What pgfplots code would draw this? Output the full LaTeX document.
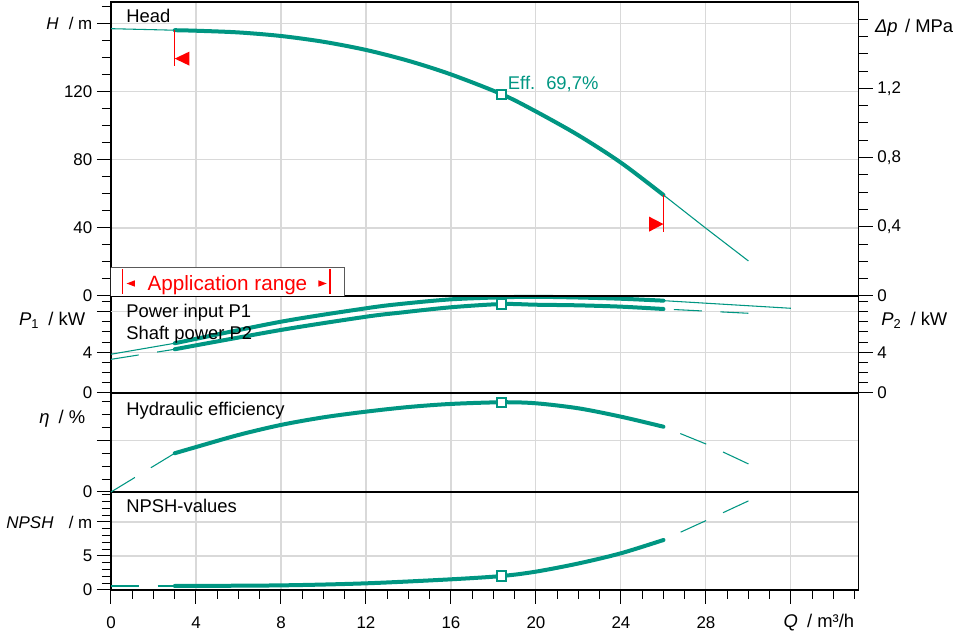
\documentclass[border=0pt]{standalone}
\usepackage{fontspec}
\setmainfont{Liberation Sans}
\usepackage{pgfplots}
\pgfplotsset{compat=1.18}
\definecolor{wilo}{RGB}{0,150,130}
\definecolor{gridgray}{RGB}{217,217,217}
\newcommand{\txt}{\fontsize{13.8}{16}\selectfont}

\begin{document}
\begin{tikzpicture}
\path[use as bounding box] (-83.25pt,0pt) rectangle (631.5pt,475.5pt);
\pgfplotsset{
  panel/.style={
    scale only axis, width=560.78pt, xmin=0, xmax=35.19,
    axis line style={line width=0.9pt, black},
    tick style={line width=0.75pt, black},
    tick align=outside,
    major tick length=10.5pt, minor tick length=6.75pt,
    grid=major, major grid style={gridgray, line width=0.8pt},
    clip=false, anchor=south west,
    tick label style={font=\fontsize{12.7}{15}\selectfont},
    /pgf/number format/assume math mode=true,
    ytick pos=left,
  },
  upper/.style={xtick={4,8,...,32}, xticklabels={}, xtick style={draw=none}},
  thick/.style={wilo, line width=3pt, line cap=round, smooth},
  thin/.style={wilo, line width=0.8pt},
  dashy/.style={wilo, line width=0.8pt, dash pattern=on 21pt off 14pt},
  bop/.style={only marks, mark=square*, mark size=3.4pt, mark options={fill=white, draw=wilo, line width=1.5pt}},
}

% ---------- NPSH ----------
\begin{axis}[panel, at={(0pt,33pt)}, height=73.5pt, ymin=0, ymax=14.41,
  xtick={0,4,...,32}, xticklabels={0,4,8,12,16,20,24,28,{}},
  minor xtick={0,...,35}, xtick pos=lower,
  xticklabel style={yshift=-6pt},
  ytick={0,5,10}, yticklabels={0,5,{\textit{NPSH}\hspace{0.9em}/ m}},
  minor ytick={0,...,14}]
  \addplot[dashy] coordinates {(0,0.59) (3,0.59)};
  \addplot[thick] coordinates {(3,0.59) (8,0.68) (12,0.98) (16,1.57) (18.4,2.06) (20,2.7) (22,3.9) (24,5.4) (26,7.35)};
  \addplot[dashy] coordinates {(30,13.1) (28,10.2) (26,7.35)};
  \addplot[bop] coordinates {(18.4,2.06)};
  \node[anchor=base west, font=\txt] at (axis cs:0.5,11.43) {NPSH-values};
  \node[anchor=base east, font=\txt] at (axis cs:35.2,-5.49) {\textit{Q}\hspace{0.5em}/ m³/h};
\end{axis}

% ---------- Efficiency ----------
\begin{axis}[panel, upper, at={(0pt,106.5pt)}, height=74.25pt, ymin=0, ymax=76.9,
  ytick={0,40}, yticklabels={0,{}}, minor ytick={0,10,...,70}]
  \addplot[dashy] coordinates {(0,0) (3,30.1)};
  \addplot[thick] coordinates {(3,30.1) (4,34.9) (6,44.3) (8,52.1) (10,58.0) (12,62.4) (14,66.0) (16,68.4) (18.4,69.7) (20,68.9) (22,65.0) (24,58.5) (26,50.7)};
  \addplot[dashy] coordinates {(30,21.8) (28,37.3) (26,50.7)};
  \addplot[bop] coordinates {(18.4,69.7)};
  \node[anchor=base west, font=\txt] at (axis cs:0.5,59.8) {Hydraulic efficiency};
  \node[anchor=base east, font=\txt] at (axis cs:-0.99,53.4) {\textit{η}\hspace{0.5em}/ \%};
\end{axis}

% ---------- Power ----------
\begin{axis}[panel, upper, at={(0pt,180.75pt)}, height=72.75pt, ymin=0, ymax=9.54,
  ytick={0,4,8}, yticklabels={0,4,{}}, minor ytick={0,...,9},
  extra y ticks={8}, extra y tick labels={}, extra y tick style={major tick length=0pt}]
  \addplot[thin] coordinates {(0,3.81) (3,4.89)};
  \addplot[thick] coordinates {(3,4.89) (8,7.01) (12,8.33) (13.6,8.75) (16,9.21) (18.4,9.41) (20,9.46) (22,9.39) (24,9.27) (26,9.08)};
  \addplot[thin] coordinates {(26,9.08) (32,8.33)};
  \addplot[dashy] coordinates {(0,3.31) (3,4.3)};
  \addplot[thick] coordinates {(3,4.3) (8,6.2) (12,7.5) (13.6,7.9) (16,8.43) (18.4,8.75) (20,8.68) (22,8.62) (24,8.49) (26,8.26)};
  \addplot[dashy] coordinates {(30,7.84) (26,8.26)};
  \addplot[bop] coordinates {(18.4,8.75)};
  \node[anchor=base west, font=\txt] at (axis cs:0.5,7.44) {Power input P1};
  \node[anchor=base west, font=\txt] at (axis cs:0.5,5.28) {Shaft power P2};
  \node[anchor=base east, font=\txt] at (axis cs:-0.99,6.59) {\textit{P}\textsubscript{1}\hspace{0.5em}/ kW};
  \node[anchor=base west, font=\txt] at (axis cs:36.03,6.59) {\textit{P}\textsubscript{2}\hspace{0.5em}/ kW};
\end{axis}
\begin{axis}[panel, at={(0pt,180.75pt)}, height=72.75pt, ymin=0, ymax=9.54,
  axis x line=none, axis y line*=right, grid=none, ytick pos=right,
  ytick={0,4}, yticklabels={0,4}, minor ytick={0,...,9}]
\end{axis}

% ---------- Head ----------
\begin{axis}[panel, upper, at={(0pt,253.5pt)}, height=220.5pt, ymin=0, ymax=172.9,
  ytick={0,40,...,160}, yticklabels={0,40,80,120,{\textit{H}\hspace{0.6em}/ m}},
  minor ytick={0,10,...,170}]
  % application range box
  \addplot[fill=white, draw=none] coordinates {(0,0) (0,16.6) (11.01,16.6) (11.01,0) (0,0)};
  \addplot[draw=black!65, line width=0.8pt] coordinates {(0,16.6) (11.01,16.6) (11.01,0)};
  \addplot[red, line width=1pt] coordinates {(0.55,1.2) (0.55,15.9)};
  \addplot[red, line width=1pt] coordinates {(10.31,1.2) (10.31,15.9)};
  \addplot[red, fill=red, draw=none] coordinates {(0.734,7.35) (1.129,9.25) (1.129,5.45) (0.734,7.35)};
  \addplot[red, fill=red, draw=none] coordinates {(10.15,7.35) (9.76,9.25) (9.76,5.45) (10.15,7.35)};
  \node[anchor=base west, red, font=\fontsize{15.5}{18}\selectfont] at (axis cs:1.5,3.35) {Application range};
  % head curve
  \addplot[thin] coordinates {(0,157.2) (3,156.3)};
  \addplot[thick] coordinates {(3,156.3) (4,156.0) (6,155.0) (8,152.9) (10,149.5) (12,144.7) (14,138.3) (16,130.3) (18.4,118.6) (20,108.5) (22,94.5) (24,78.4) (26,59.4)};
  \addplot[thin] coordinates {(26,59.4) (28,39.8) (30,20.6)};
  % limits
  \addplot[red, line width=0.8pt] coordinates {(3,156.3) (3,135.5)};
  \addplot[red, fill=red, draw=none] coordinates {(3,139.6) (3.685,143.7) (3.685,135.5) (3,139.6)};
  \addplot[red, line width=0.8pt] coordinates {(26,59.4) (26,37.8)};
  \addplot[red, fill=red, draw=none] coordinates {(26,42.3) (25.32,46.7) (25.32,37.8) (26,42.3)};
  \addplot[bop] coordinates {(18.4,118.6)};
  \node[anchor=base west, font=\txt] at (axis cs:0.5,160.8) {Head};
  \node[anchor=base west, font=\txt, wilo] at (axis cs:18.46,121.6) {Eff.\hspace{0.6em}69,7\%};
\end{axis}
\begin{axis}[panel, at={(0pt,253.5pt)}, height=220.5pt, ymin=0, ymax=1.6994,
  axis x line=none, axis y line*=right, grid=none, ytick pos=right,
  ytick={0,0.4,0.8,1.2}, yticklabels={0,{0,4},{0,8},{1,2}},
  minor ytick={0,0.1,0.2,0.3,0.4,0.5,0.6,0.7,0.8,0.9,1.0,1.1,1.2,1.3,1.4,1.5,1.6}]
  \node[anchor=base west, font=\txt, inner sep=0pt] at (axis cs:35.95,1.525) {\textit{Δp}\hspace{0.4em}/ MPa};
\end{axis}
\end{tikzpicture}
\end{document}
